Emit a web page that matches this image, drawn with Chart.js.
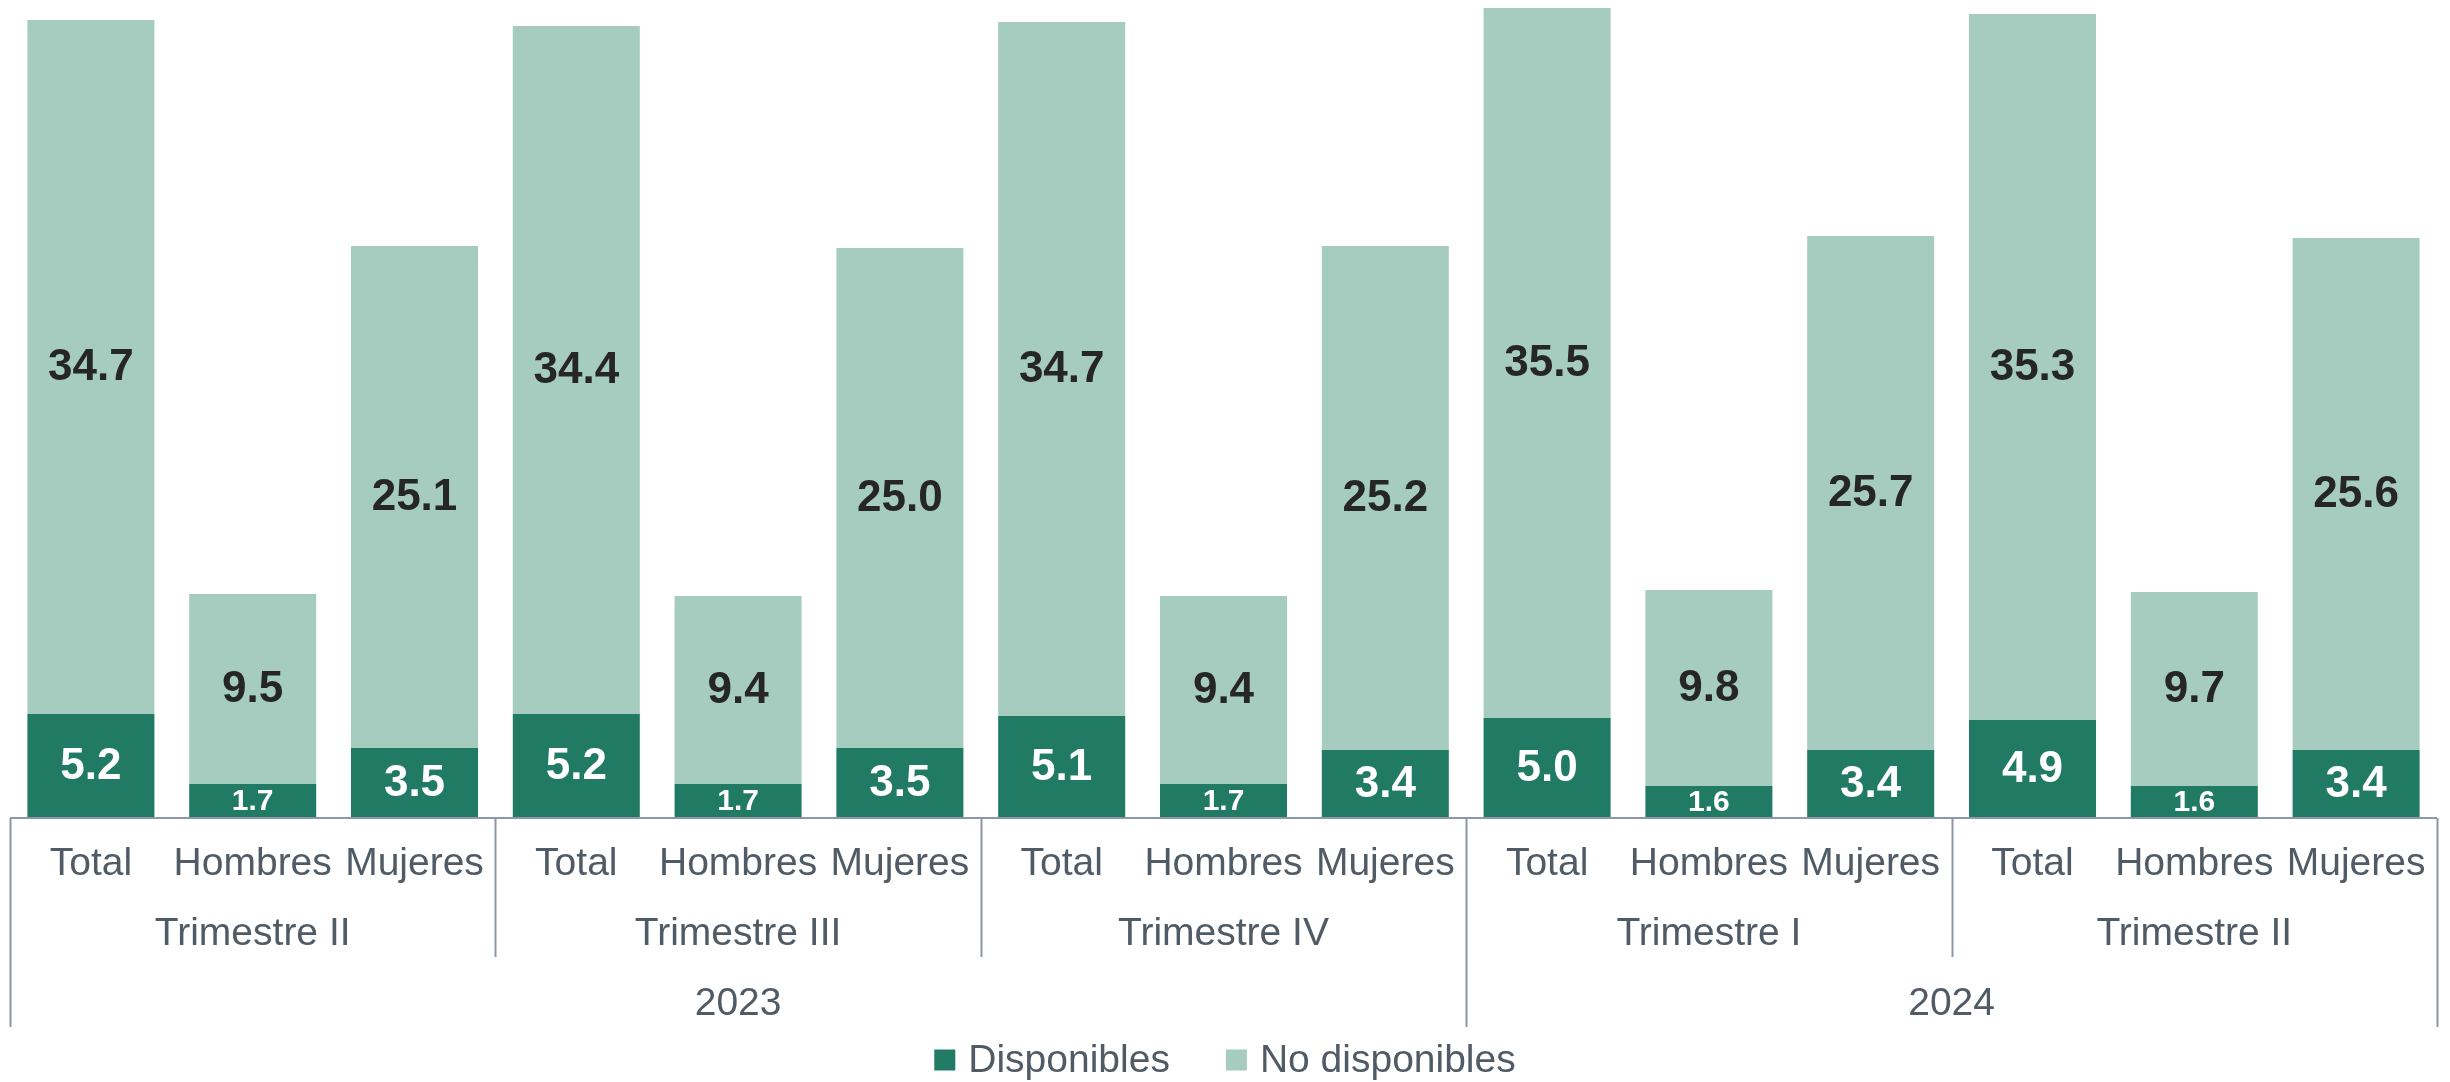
<!DOCTYPE html>
<html>
<head>
<meta charset="utf-8">
<script src="https://cdn.jsdelivr.net/npm/chart.js@4.4.1/dist/chart.umd.min.js"></script>
<style>
  html, body { margin: 0; padding: 0; background: #fff; }
  canvas { display: block; }
</style>
</head>
<body>
<canvas id="chart" width="2450" height="1082"></canvas>
<script>
// data
const groups = ['Total', 'Hombres', 'Mujeres'];
const periods = ['Trimestre II', 'Trimestre III', 'Trimestre IV', 'Trimestre I', 'Trimestre II'];
const periodYears = ['2023', '2023', '2023', '2024', '2024'];
const disponibles = [5.2, 1.7, 3.5, 5.2, 1.7, 3.5, 5.1, 1.7, 3.4, 5.0, 1.6, 3.4, 4.9, 1.6, 3.4];
const noDisponibles = [34.7, 9.5, 25.1, 34.4, 9.4, 25.0, 34.7, 9.4, 25.2, 35.5, 9.8, 25.7, 35.3, 9.7, 25.6];
const seriesNames = ['Disponibles', 'No disponibles'];

const darkGreen = '#217A63';
const lightGreen = '#A5CCBE';
const axisText = '#515B65';
const axisLine = '#8C98A4';
const fontFamily = '"Liberation Sans", Arial, sans-serif';

const labels = [];
periods.forEach((p, i) => groups.forEach(g => labels.push(g)));

// value labels inside the bar segments
const barLabels = {
  id: 'barLabels',
  afterDatasetsDraw(chart) {
    const ctx = chart.ctx;
    ctx.save();
    ctx.textAlign = 'center';
    ctx.textBaseline = 'middle';
    chart.data.datasets.forEach((ds, di) => {
      const meta = chart.getDatasetMeta(di);
      meta.data.forEach((bar, i) => {
        const v = ds.data[i];
        const size = v < 2 ? 30 : 44;
        ctx.font = `bold ${size}px ${fontFamily}`;
        ctx.fillStyle = di === 0 ? '#ffffff' : '#262626';
        const y = (bar.y + bar.base) / 2 + 1;
        ctx.fillText(v.toFixed(1), bar.x, y);
      });
    });
    ctx.restore();
  }
};

// multi-level category axis + legend
const groupedAxis = {
  id: 'groupedAxis',
  afterDraw(chart) {
    const ctx = chart.ctx;
    const xs = chart.scales.x;
    const area = chart.chartArea;
    const base = area.bottom;
    const n = labels.length;
    const edge = (i) => {
      if (i <= 0) return area.left;
      if (i >= n) return area.right;
      return (xs.getPixelForValue(i - 1) + xs.getPixelForValue(i)) / 2;
    };

    ctx.save();
    ctx.strokeStyle = axisLine;
    ctx.lineWidth = 2;
    ctx.beginPath();
    ctx.moveTo(area.left, base);
    ctx.lineTo(area.right, base);
    ctx.stroke();

    // separators
    for (let p = 0; p <= periods.length; p++) {
      const x = Math.round(edge(p * groups.length)) + 0.5;
      const yearBreak = p === 0 || p === periods.length || periodYears[p] !== periodYears[p - 1];
      ctx.beginPath();
      ctx.moveTo(x, base);
      ctx.lineTo(x, yearBreak ? 1027 : 957);
      ctx.stroke();
    }

    ctx.fillStyle = axisText;
    ctx.textAlign = 'center';
    ctx.textBaseline = 'middle';
    ctx.font = `39px ${fontFamily}`;

    labels.forEach((l, i) => ctx.fillText(l, xs.getPixelForValue(i), 864));

    periods.forEach((p, i) => {
      const x = (edge(i * groups.length) + edge((i + 1) * groups.length)) / 2;
      ctx.fillText(p, x, 934);
    });

    let start = 0;
    for (let i = 1; i <= periods.length; i++) {
      if (i === periods.length || periodYears[i] !== periodYears[start]) {
        const x = (edge(start * groups.length) + edge(i * groups.length)) / 2;
        ctx.fillText(periodYears[start], x, 1004);
        start = i;
      }
    }

    // legend
    const box = 21, gap = 13, spacing = 56;
    const colors = [darkGreen, lightGreen];
    const widths = seriesNames.map(s => box + gap + ctx.measureText(s).width);
    const total = widths.reduce((a, b) => a + b, 0) + spacing * (seriesNames.length - 1);
    let lx = (chart.width - total) / 2;
    const ly = 1060;
    ctx.textAlign = 'left';
    seriesNames.forEach((s, i) => {
      ctx.fillStyle = colors[i];
      ctx.fillRect(lx, ly - box / 2, box, box);
      ctx.fillStyle = axisText;
      ctx.fillText(s, lx + box + gap, ly + 1);
      lx += widths[i] + spacing;
    });
    ctx.restore();
  }
};

new Chart(document.getElementById('chart'), {
  type: 'bar',
  data: {
    labels: labels,
    datasets: [
      { label: seriesNames[0], data: disponibles, backgroundColor: darkGreen },
      { label: seriesNames[1], data: noDisponibles, backgroundColor: lightGreen }
    ]
  },
  options: {
    responsive: false,
    animation: false,
    layout: { padding: { left: 10, right: 13, top: 0, bottom: 0 } },
    datasets: { bar: { barPercentage: 0.785, categoryPercentage: 1 } },
    plugins: {
      legend: { display: false },
      tooltip: { enabled: false }
    },
    scales: {
      x: {
        stacked: true,
        grid: { display: false },
        border: { display: false },
        ticks: { display: false },
        afterFit(scale) { scale.height = 264; }
      },
      y: {
        stacked: true,
        display: false,
        min: 0,
        max: 40.9
      }
    }
  },
  plugins: [barLabels, groupedAxis]
});
</script>
</body>
</html>
